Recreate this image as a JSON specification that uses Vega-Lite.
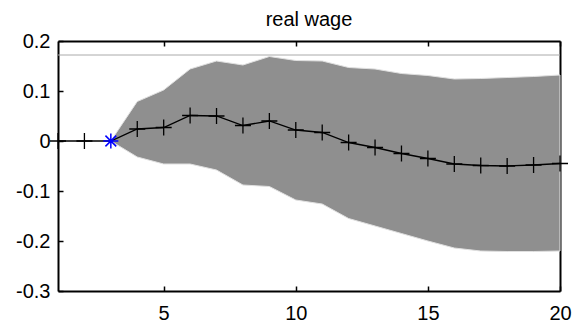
{
  "$schema": "https://vega.github.io/schema/vega-lite/v6.json",
  "width": 502,
  "height": 250,
  "autosize": {"type": "none"},
  "padding": {"left": 58, "top": 41, "right": 27, "bottom": 39},
  "background": "white",
  "title": {
    "text": "real wage",
    "font": "Liberation Sans",
    "fontSize": 20,
    "fontWeight": "normal",
    "color": "black",
    "anchor": "middle",
    "baseline": "bottom",
    "offset": -19
  },
  "config": {
    "view": {"stroke": null},
    "axis": {
      "labelFont": "Liberation Sans",
      "labelFontSize": 20,
      "labelColor": "black",
      "domainColor": "black",
      "domainWidth": 2,
      "tickColor": "black",
      "tickWidth": 1.5,
      "tickSize": -5,
      "grid": false,
      "title": null,
      "zindex": 1,
      "labelFlush": false,
      "labelOverlap": false
    }
  },
  "datasets": {
    "irf": [
      {"step": 1, "resp": 0, "lo": null, "hi": null},
      {"step": 2, "resp": 0, "lo": null, "hi": null},
      {"step": 3, "resp": 0, "lo": 0, "hi": 0},
      {"step": 4, "resp": 0.024, "lo": -0.032, "hi": 0.079},
      {"step": 5, "resp": 0.027, "lo": -0.046, "hi": 0.102},
      {"step": 6, "resp": 0.051, "lo": -0.046, "hi": 0.144},
      {"step": 7, "resp": 0.050, "lo": -0.058, "hi": 0.160},
      {"step": 8, "resp": 0.031, "lo": -0.088, "hi": 0.152},
      {"step": 9, "resp": 0.040, "lo": -0.091, "hi": 0.169},
      {"step": 10, "resp": 0.022, "lo": -0.118, "hi": 0.161},
      {"step": 11, "resp": 0.017, "lo": -0.126, "hi": 0.160},
      {"step": 12, "resp": -0.003, "lo": -0.155, "hi": 0.147},
      {"step": 13, "resp": -0.013, "lo": -0.170, "hi": 0.144},
      {"step": 14, "resp": -0.025, "lo": -0.185, "hi": 0.135},
      {"step": 15, "resp": -0.035, "lo": -0.200, "hi": 0.131},
      {"step": 16, "resp": -0.046, "lo": -0.214, "hi": 0.124},
      {"step": 17, "resp": -0.049, "lo": -0.220, "hi": 0.125},
      {"step": 18, "resp": -0.050, "lo": -0.221, "hi": 0.127},
      {"step": 19, "resp": -0.048, "lo": -0.221, "hi": 0.129},
      {"step": 20, "resp": -0.045, "lo": -0.220, "hi": 0.132}
    ],
    "limit": [{"level": 0.172}]
  },
  "layer": [
    {
      "data": {"name": "limit"},
      "mark": {"type": "rule", "color": "#aaaaaa", "strokeWidth": 1},
      "encoding": {
        "y": {"field": "level", "type": "quantitative", "scale": {"domain": [-0.3, 0.2], "nice": false, "zero": false}, "axis": null}
      }
    },
    {
      "data": {"name": "irf"},
      "mark": {"type": "area", "fill": "#8f8f8f", "stroke": "#e0e0e0", "strokeWidth": 1, "opacity": 1},
      "encoding": {
        "x": {"field": "step", "type": "quantitative", "scale": {"domain": [1, 20], "nice": false, "zero": false},
              "axis": {"orient": "top", "values": [5, 10, 15, 20], "labels": false}},
        "y": {"field": "hi", "type": "quantitative", "scale": {"domain": [-0.3, 0.2], "nice": false, "zero": false},
              "axis": {"orient": "right", "labels": false, "ticks": false}},
        "y2": {"field": "lo"}
      }
    },
    {
      "data": {"name": "irf"},
      "mark": {"type": "line", "color": "black", "strokeWidth": 1.3},
      "encoding": {
        "x": {"field": "step", "type": "quantitative", "scale": {"domain": [1, 20], "nice": false, "zero": false},
              "axis": {"orient": "bottom", "values": [5, 10, 15, 20], "labelPadding": 17}},
        "y": {"field": "resp", "type": "quantitative", "scale": {"domain": [-0.3, 0.2], "nice": false, "zero": false},
              "axis": {"orient": "left", "values": [-0.3, -0.2, -0.1, 0, 0.1, 0.2], "labelPadding": 13, "labelExpr": "'' + datum.value"}}
      }
    },
    {
      "data": {"name": "irf"},
      "transform": [{"filter": "datum.step != 3"}],
      "mark": {"type": "point", "shape": "M-1,0H1M0,-1V1", "size": 256, "filled": false, "stroke": "black", "strokeWidth": 1.3, "opacity": 1, "clip": false},
      "encoding": {
        "x": {"field": "step", "type": "quantitative", "scale": {"domain": [1, 20], "nice": false, "zero": false}, "axis": null},
        "y": {"field": "resp", "type": "quantitative", "scale": {"domain": [-0.3, 0.2], "nice": false, "zero": false}, "axis": null}
      }
    },
    {
      "data": {"name": "irf"},
      "transform": [{"filter": "datum.step == 3"}],
      "mark": {"type": "point", "shape": "M-1,0H1M0,-1V1M-0.72,-0.72L0.72,0.72M-0.72,0.72L0.72,-0.72", "size": 225, "filled": false, "stroke": "#0000ff", "strokeWidth": 1.5, "opacity": 1},
      "encoding": {
        "x": {"field": "step", "type": "quantitative", "scale": {"domain": [1, 20], "nice": false, "zero": false}, "axis": null},
        "y": {"field": "resp", "type": "quantitative", "scale": {"domain": [-0.3, 0.2], "nice": false, "zero": false}, "axis": null}
      }
    }
  ],
  "resolve": {"axis": {"x": "independent", "y": "independent"}}
}
